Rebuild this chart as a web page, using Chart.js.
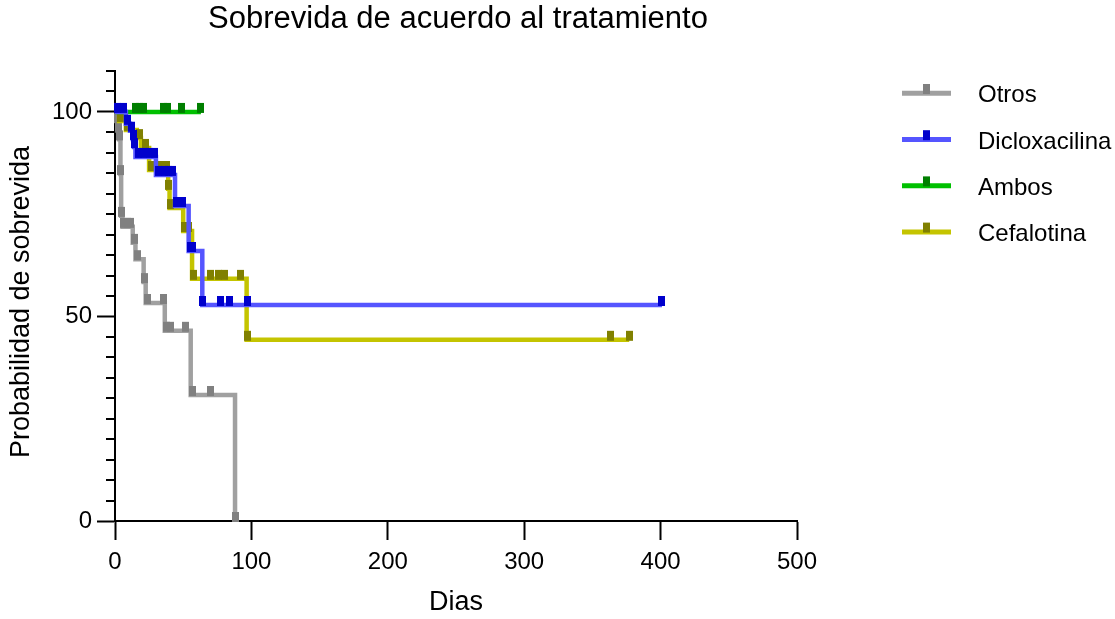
<!DOCTYPE html>
<html lang="es">
<head>
<meta charset="UTF-8">
<title>Sobrevida de acuerdo al tratamiento</title>
<script src="https://cdn.jsdelivr.net/npm/chart.js"></script>
<style>
    html, body { margin: 0; padding: 0; background: #fff; }
    #wrap { width: 1115px; height: 619px; }
</style>
</head>
<body>
<div id="wrap"><canvas id="survivalChart" width="1115" height="619"></canvas></div>
<script>
// legend order
const groups = ['Otros', 'Dicloxacilina', 'Ambos', 'Cefalotina'];
const lineColors = ['#a0a0a0', '#5555ff', '#00c000', '#c4c400'];
const markColors = ['#808080', '#0000cc', '#007f00', '#808000'];

// step points (days, % survival after the step); last entry = end of follow-up
const otrosDays = [0, 1, 2, 3, 4, 4.5, 5.5, 13, 15, 21, 22.5, 36.5, 55.5, 88];
const otrosSurv = [100, 97.5, 95.4, 93.3, 84.8, 74.6, 71.9, 68.0, 64.0, 58.4, 53.3, 46.5, 30.8, 0];
const otrosCensDays = [1.5, 2.3, 3.3, 4.2, 4.8, 6, 9, 11, 14, 16.5, 21.5, 23.5, 35.5, 37.5, 41, 52, 56.5, 70, 88];
const otrosCensSurv = [97.5, 95.4, 93.3, 84.8, 74.6, 71.9, 71.9, 71.9, 68.0, 64.0, 58.4, 53.3, 53.3, 46.5, 46.5, 46.5, 30.8, 30.8, 0];

const dicloxDays = [0, 8, 11, 13, 14, 15, 30, 44, 54, 64, 401];
const dicloxSurv = [100, 97.1, 95.4, 93.4, 91.4, 89.0, 84.6, 77.0, 66.0, 52.8, 52.8];
const dicloxCensDays = [2, 6, 9, 12, 13.5, 14.5, 17, 21, 25, 29, 32, 36, 39, 42, 45, 47, 49.5, 55, 57, 64.5, 77, 84, 97, 401];
const dicloxCensSurv = [100, 100, 97.1, 95.4, 93.4, 91.4, 89, 89, 89, 89, 84.6, 84.6, 84.6, 84.6, 77, 77, 77, 66, 66, 52.8, 52.8, 52.8, 52.8, 52.8];

const ambosDays = [0, 63];
const ambosSurv = [100, 100];
const ambosCensDays = [15, 18, 21, 35.5, 38.5, 49, 63];
const ambosCensSurv = [100, 100, 100, 100, 100, 100, 100];

const cefaDays = [0, 3, 8, 16, 19, 25, 39, 40, 50, 56.5, 96.5, 377];
const cefaSurv = [100, 97.8, 95.6, 93.6, 91.2, 85.8, 81.2, 76.5, 70.9, 59.2, 44.3, 44.3];
const cefaCensDays = [4, 9, 18, 22, 27, 31, 35, 38, 39.5, 40.5, 51, 54, 57.5, 70, 76, 80, 92, 97, 363, 377];
const cefaCensSurv = [97.8, 95.6, 93.6, 91.2, 85.8, 85.8, 85.8, 85.8, 81.2, 76.5, 70.9, 70.9, 59.2, 59.2, 59.2, 59.2, 59.2, 44.3, 44.3, 44.3];

// axis ticks
const xTicks = [0, 100, 200, 300, 400, 500];
const yMajorTicks = [0, 50, 100];
const yMinorTicks = [5, 10, 15, 20, 25, 30, 35, 40, 45, 55, 60, 65, 70, 75, 80, 85, 90, 95, 105, 110];

const FONT = '"Liberation Sans", Arial, sans-serif';

function pts(xs, ys) {
    return xs.map((x, i) => ({ x: x, y: ys[i] }));
}

// censor mark: small bar sitting on the line
function markImg(color) {
    const c = document.createElement('canvas');
    c.width = 7;
    c.height = 20;
    const g = c.getContext('2d');
    g.fillStyle = color;
    g.fillRect(0, 1, 7, 10);
    return c;
}

const series = [
    { days: otrosDays, surv: otrosSurv, cd: otrosCensDays, cs: otrosCensSurv },
    { days: dicloxDays, surv: dicloxSurv, cd: dicloxCensDays, cs: dicloxCensSurv },
    { days: ambosDays, surv: ambosSurv, cd: ambosCensDays, cs: ambosCensSurv },
    { days: cefaDays, surv: cefaSurv, cd: cefaCensDays, cs: cefaCensSurv }
];
// draw weight: blue on top, then green, yellow, gray
const drawRank = [4, 1, 2, 3];

const datasets = [];
series.forEach((s, i) => {
    datasets.push({
        type: 'line',
        label: groups[i],
        data: pts(s.days, s.surv),
        stepped: 'before',
        borderColor: lineColors[i],
        borderWidth: 4.5,
        pointRadius: 0,
        fill: false,
        borderCapStyle: 'butt',
        order: drawRank[i] * 2
    });
    datasets.push({
        type: 'scatter',
        label: groups[i] + ' censurado',
        data: pts(s.cd, s.cs),
        pointStyle: markImg(markColors[i]),
        pointRadius: 5,
        backgroundColor: markColors[i],
        borderColor: markColors[i],
        clip: 12,
        order: drawRank[i] * 2 - 1
    });
});

const extras = {
    id: 'extras',
    afterDraw(chart) {
        const ctx = chart.ctx;
        const area = chart.chartArea;
        const y = chart.scales.y;
        ctx.save();
        // minor y ticks
        ctx.strokeStyle = '#000';
        ctx.lineWidth = 2;
        yMinorTicks.forEach(v => {
            const py = Math.round(y.getPixelForValue(v));
            ctx.beginPath();
            ctx.moveTo(area.left - 9, py);
            ctx.lineTo(area.left, py);
            ctx.stroke();
        });
        // title
        ctx.fillStyle = '#000';
        ctx.font = '31px ' + FONT;
        ctx.textAlign = 'center';
        ctx.textBaseline = 'alphabetic';
        ctx.fillText('Sobrevida de acuerdo al tratamiento', (area.left + area.right) / 2 + 2, 28);
        // y axis title, drawn a little below the axis centre as in the original
        ctx.save();
        ctx.font = '27px ' + FONT;
        ctx.textBaseline = 'middle';
        ctx.translate(22, 302);
        ctx.rotate(-Math.PI / 2);
        ctx.fillText('Probabilidad de sobrevida', 0, 0);
        ctx.restore();
        // legend
        ctx.font = '24px ' + FONT;
        ctx.textAlign = 'left';
        ctx.textBaseline = 'middle';
        groups.forEach((name, i) => {
            const ly = 93.3 + i * 46.2;
            ctx.strokeStyle = lineColors[i];
            ctx.lineWidth = 5;
            ctx.beginPath();
            ctx.moveTo(902, ly);
            ctx.lineTo(951, ly);
            ctx.stroke();
            ctx.fillStyle = markColors[i];
            ctx.fillRect(923, ly - 9.3, 7, 10);
            ctx.fillStyle = '#000';
            ctx.fillText(name, 978, ly + 2.5);
        });
        ctx.restore();
    }
};

new Chart(document.getElementById('survivalChart'), {
    data: { datasets: datasets },
    options: {
        responsive: false,
        animation: false,
        devicePixelRatio: 1,
        layout: { padding: { top: 71, right: 318, bottom: 0, left: 0 } },
        plugins: {
            legend: { display: false },
            tooltip: { enabled: false }
        },
        scales: {
            x: {
                type: 'linear',
                min: 0,
                max: 500,
                afterBuildTicks: s => { s.ticks = xTicks.map(v => ({ value: v })); },
                afterFit: s => { s.height = 98; },
                ticks: { color: '#000', font: { family: FONT, size: 24 }, padding: 8, maxRotation: 0 },
                grid: { drawOnChartArea: false, drawTicks: true, tickLength: 19, tickWidth: 2, tickColor: '#000' },
                border: { display: true, color: '#000', width: 2 },
                title: { display: true, text: 'Dias', color: '#000', font: { family: FONT, size: 27 }, padding: { top: 0, bottom: 0 } }
            },
            y: {
                type: 'linear',
                min: 0,
                max: 110,
                afterBuildTicks: s => { s.ticks = yMajorTicks.map(v => ({ value: v })); },
                afterFit: s => { s.width = 115; },
                ticks: { color: '#000', font: { family: FONT, size: 24 }, padding: 5 },
                grid: { drawOnChartArea: false, drawTicks: true, tickLength: 18, tickWidth: 2, tickColor: '#000' },
                border: { display: true, color: '#000', width: 2 },
                title: { display: false }
            }
        }
    },
    plugins: [extras]
});
</script>
</body>
</html>
